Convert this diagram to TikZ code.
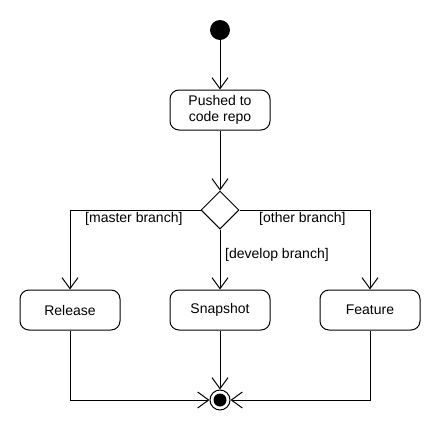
\documentclass[tikz,border=0pt]{standalone}
\usepackage{fontspec}
\setmainfont{Liberation Sans}
\usetikzlibrary{arrows.meta,shapes.geometric}
\begin{document}
\begin{tikzpicture}[x=1pt,y=-1pt,
  every node/.style={font=\fontsize{14pt}{16.5pt}\selectfont},
  act/.style={draw,line width=1pt,rounded corners=9pt,minimum width=100pt,minimum height=40pt,inner sep=0pt,align=center},
  flow/.style={draw,line width=1pt,-{Straight Barb[length=11pt,width=16pt,line width=1pt]}},
  lbl/.style={inner sep=0pt,anchor=west}]
\useasboundingbox (0,0) rectangle (440,440);
\node[circle,fill=black,minimum size=20pt,inner sep=0pt] (start) at (220,30) {};
\node[act] (push) at (220,110) {Pushed to\\code repo};
\node[diamond,draw,line width=1pt,minimum width=38pt,minimum height=38pt,inner sep=0pt] (dec) at (220,210) {};
\node[act] (rel) at (70,310) {Release};
\node[act] (snap) at (220,310) {Snapshot};
\node[act] (feat) at (370,310) {Feature};
\node[circle,draw,line width=1pt,minimum size=20pt,inner sep=0pt] (end) at (220,400) {};
\node[circle,fill=black,minimum size=13pt,inner sep=0pt] (endin) at (220,400) {};
\draw[flow] (start) -- (push);
\draw[flow] (push) -- (dec);
\draw[flow] (dec.west) -| (rel.north);
\draw[flow] (dec.east) -| (feat.north);
\draw[flow] (dec.south) -- (snap.north);
\draw[flow] (rel.south) |- (end.west);
\draw[flow] (feat.south) |- (end.east);
\draw[flow] (snap.south) -- (end.north);
\node[lbl] (lm) at (85,219) {[master branch]};
\node[lbl] (lo) at (259,219) {[other branch]};
\node[lbl] (ld) at (225,255) {[develop branch]};
\end{tikzpicture}
\end{document}
